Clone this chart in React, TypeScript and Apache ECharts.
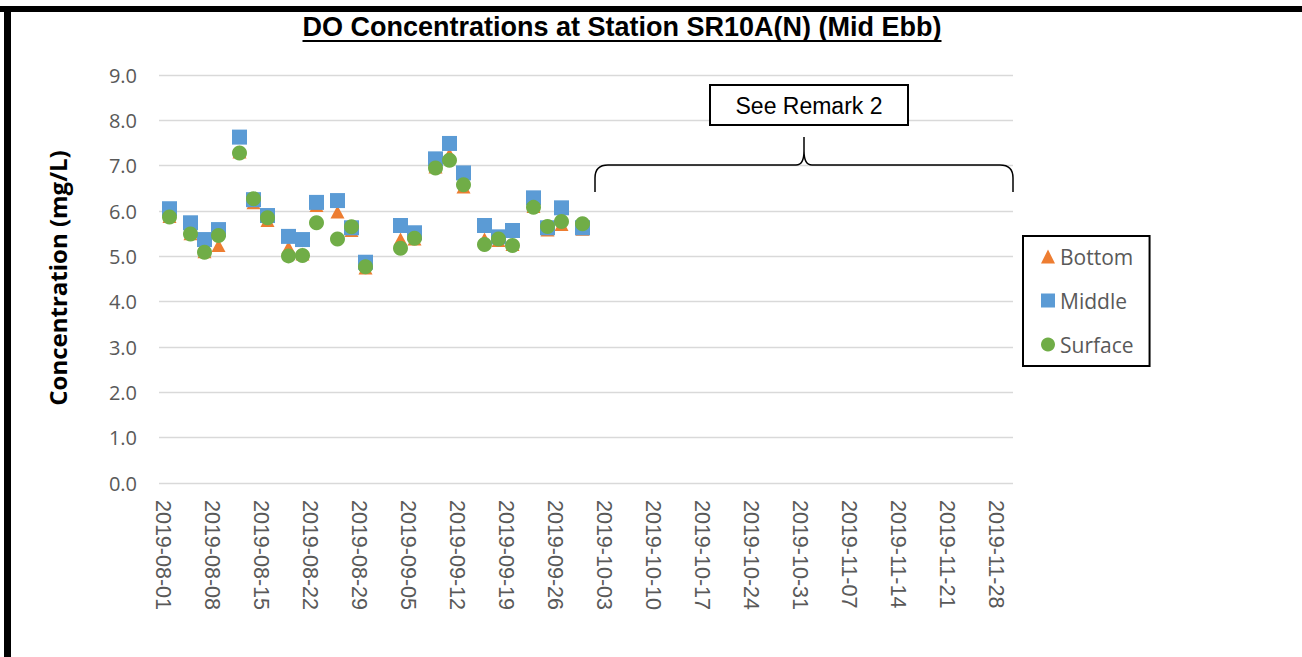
import React, { useEffect, useRef } from "react";
import * as echarts from "echarts";

const titleText = "DO Concentrations at Station SR10A(N) (Mid Ebb)";
const yAxisTitle = "Concentration (mg/L)";
const remarkText = "See Remark 2";

const axisStart = "2019-08-01";
const axisEnd = "2019-11-30";

const sampleDates = [
  "2019-08-02", "2019-08-05", "2019-08-07", "2019-08-09", "2019-08-12",
  "2019-08-14", "2019-08-16", "2019-08-19", "2019-08-21", "2019-08-23",
  "2019-08-26", "2019-08-28", "2019-08-30", "2019-09-04", "2019-09-06",
  "2019-09-09", "2019-09-11", "2019-09-13", "2019-09-16", "2019-09-18",
  "2019-09-20", "2019-09-23", "2019-09-25", "2019-09-27", "2019-09-30",
];
const bottomValues = [
  5.88, 5.5, 5.1, 5.24, 7.3, 6.18, 5.79, 5.2, 5.05, 6.12, 5.98, 5.57, 4.74,
  5.38, 5.38, 6.97, 7.25, 6.53, 5.38, 5.35, 5.26, 6.1, 5.58, 5.7, 5.6,
];
const middleValues = [
  6.05, 5.74, 5.37, 5.59, 7.63, 6.25, 5.9, 5.44, 5.37, 6.19, 6.23, 5.63, 4.87,
  5.68, 5.52, 7.15, 7.49, 6.84, 5.68, 5.43, 5.57, 6.29, 5.63, 6.07, 5.63,
];
const surfaceValues = [
  5.87, 5.49, 5.09, 5.46, 7.28, 6.27, 5.85, 5.01, 5.02, 5.74, 5.38, 5.65, 4.77,
  5.18, 5.4, 6.95, 7.12, 6.58, 5.26, 5.38, 5.24, 6.08, 5.66, 5.77, 5.72,
];

const seriesNames = ["Bottom", "Middle", "Surface"];
const seriesColors = ["#ED7D31", "#5B9BD5", "#70AD47"];
const seriesSymbols = ["triangle", "rect", "circle"];

function buildDays(start: string, end: string): string[] {
  const out: string[] = [];
  const d = new Date(start + "T00:00:00Z");
  const e = new Date(end + "T00:00:00Z");
  while (d.getTime() <= e.getTime()) {
    out.push(d.toISOString().slice(0, 10));
    d.setUTCDate(d.getUTCDate() + 1);
  }
  return out;
}

export default function App() {
  const ref = useRef<HTMLDivElement>(null);

  useEffect(() => {
    document.body.style.margin = "0";
    if (!ref.current) return;
    const chart = echarts.init(ref.current, null, { renderer: "svg" });

    const days = buildDays(axisStart, axisEnd);
    const valuesBySeries = [bottomValues, middleValues, surfaceValues];

    const titleFont = 'bold 27px "Liberation Sans", Arial, sans-serif';
    const canvas = document.createElement("canvas");
    const ctx = canvas.getContext("2d");
    let titleWidth = 635;
    if (ctx) {
      ctx.font = titleFont;
      titleWidth = ctx.measureText(titleText).width;
    }
    const titleCx = 622;

    const bracePath =
      "M595,192 L595,178 Q595,165 608,165 L796,165 Q804,165 804,151 L804,137 M804,151 Q804,165 812,165 L1000,165 Q1013,165 1013,178 L1013,192";
    echarts.graphic.registerShape(
      "remarkBrace",
      (echarts.graphic as any).extendPath(bracePath, {})
    );

    chart.setOption({
      animation: false,
      backgroundColor: "#ffffff",
      grid: { left: 159, top: 75, width: 854, height: 408, containLabel: false },
      xAxis: {
        type: "category",
        data: days,
        boundaryGap: true,
        axisLine: { show: false },
        axisTick: { show: false },
        splitLine: { show: false },
        axisLabel: {
          interval: 6,
          rotate: -90,
          margin: 17,
          color: "#595959",
          fontSize: 21.5,
          fontFamily: '"Liberation Sans", Arial, sans-serif',
        },
      },
      yAxis: {
        type: "value",
        min: 0,
        max: 9,
        interval: 1,
        axisLine: { show: false },
        axisTick: { show: false },
        splitLine: { lineStyle: { color: "#d9d9d9", width: 1.3 } },
        axisLabel: {
          formatter: (v: number) => v.toFixed(1),
          margin: 22,
          color: "#595959",
          fontSize: 20,
          fontFamily: '"Open Sans", sans-serif',
        },
      },
      legend: {
        orient: "vertical",
        left: 1023,
        top: 236,
        padding: [10, 16, 11, 18],
        itemGap: 23,
        itemWidth: 14,
        itemHeight: 14,
        borderColor: "#000000",
        borderWidth: 2,
        selectedMode: false,
        textStyle: {
          color: "#595959",
          fontSize: 21,
          fontFamily: '"Open Sans", sans-serif',
        },
        data: seriesNames.map((n, i) => ({ name: n, icon: seriesSymbols[i] })),
      },
      series: seriesNames.map((name, i) => ({
        name,
        type: "scatter",
        symbol: seriesSymbols[i],
        symbolSize: i === 0 ? [14, 13] : 15,
        itemStyle: { color: seriesColors[i], opacity: 1 },
        data: sampleDates.map((d, k) => [d, valuesBySeries[i][k]]),
        z: 2 + i,
      })),
      graphic: [
        { type: "rect", shape: { x: 0, y: 6, width: 1302, height: 6 }, style: { fill: "#000" }, z: 100 },
        { type: "rect", shape: { x: 4, y: 6, width: 7, height: 651 }, style: { fill: "#000" }, z: 100 },
        {
          type: "text",
          x: titleCx,
          y: 27,
          style: {
            text: titleText,
            font: titleFont,
            fill: "#000",
            align: "center",
            verticalAlign: "middle",
          },
        },
        {
          type: "line",
          shape: { x1: titleCx - titleWidth / 2, y1: 41, x2: titleCx + titleWidth / 2, y2: 41 },
          style: { stroke: "#000", lineWidth: 2 },
        },
        {
          type: "text",
          x: 57,
          y: 278,
          rotation: Math.PI / 2,
          style: {
            text: yAxisTitle,
            font: 'bold 24px "Open Sans", sans-serif',
            fill: "#000",
            align: "center",
            verticalAlign: "middle",
          },
        },
        {
          type: "rect",
          shape: { x: 710, y: 85, width: 198, height: 40 },
          style: { fill: "#fff", stroke: "#000", lineWidth: 2 },
          z: 50,
        },
        {
          type: "text",
          x: 809,
          y: 106,
          z: 51,
          style: {
            text: remarkText,
            font: '23px "Liberation Sans", Arial, sans-serif',
            fill: "#000",
            align: "center",
            verticalAlign: "middle",
          },
        },
        {
          type: "remarkBrace",
          x: 0,
          y: 0,
          scaleX: 1,
          scaleY: 1,
          z: 50,
          style: { fill: "none", stroke: "#000", lineWidth: 1.5 },
        },
      ],
    });

    return () => {
      chart.dispose();
    };
  }, []);

  return (
    <div
      ref={ref}
      style={{ width: 1302, height: 657, background: "#fff" }}
    />
  );
}
